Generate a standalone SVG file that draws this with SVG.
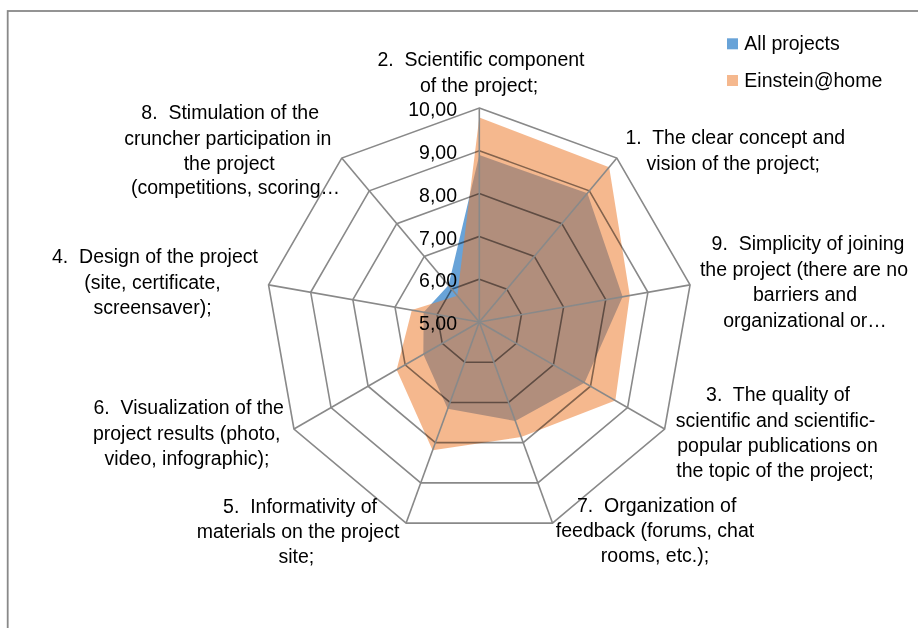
<svg xmlns="http://www.w3.org/2000/svg" width="918" height="628" viewBox="0 0 918 628">
<style>
text{font-family:"Liberation Sans",Arial,sans-serif;font-size:19.5px;fill:#000}
.lbl{text-anchor:middle}
.val{text-anchor:end}
.ring{fill:none;stroke:#898989;stroke-width:1.6;mix-blend-mode:multiply}
.spoke{stroke:#898989;stroke-width:1.6}
.blue{fill:#5B9BD5;fill-opacity:0.92}
.orange{fill:#ED7D31;fill-opacity:0.55}
</style>
<rect x="0" y="0" width="918" height="628" fill="#fff"/>
<rect id="frame" x="7.7" y="11" width="1000" height="1000" fill="none" stroke="#898989" stroke-width="1.8"/>

<g id="series-all">
<polygon class="blue" points="479.3,155.08 587.42,193.15 622.61,296.73 584.57,382.78 515.31,420.94 447.68,408.87 423.33,354.31 423.66,312.19 448.49,285.28"/>
</g>
<g id="series-einstein">
<polygon class="orange" points="479.3,117.42 609.16,167.24 629.78,295.47 615.33,400.54 521.17,437.03 432.6,450.3 396.65,369.72 411.86,310.11 457.29,295.77"/>
</g>

<g id="grid">
<polygon class="ring" points="479.3,108 616.86,158.07 690.05,284.84 664.63,429 552.49,523.09 406.11,523.09 293.97,429 268.55,284.84 341.74,158.07"/>
<polygon class="ring" points="479.3,150.8 589.35,190.85 647.9,292.27 627.56,407.6 537.85,482.88 420.75,482.88 331.04,407.6 310.7,292.27 369.25,190.85"/>
<polygon class="ring" points="479.3,193.6 561.83,223.64 605.75,299.7 590.5,386.2 523.21,442.66 435.39,442.66 368.1,386.2 352.85,299.7 396.77,223.64"/>
<polygon class="ring" points="479.3,236.4 534.32,256.43 563.6,307.14 553.43,364.8 508.58,402.44 450.02,402.44 405.17,364.8 395,307.14 424.28,256.43"/>
<polygon class="ring" points="479.3,279.2 506.81,289.21 521.45,314.57 516.37,343.4 493.94,362.22 464.66,362.22 442.23,343.4 437.15,314.57 451.79,289.21"/>
</g>

<g id="connectors">
<line class="spoke" x1="479.3" y1="322" x2="479.3" y2="108"/>
<line class="spoke" x1="479.3" y1="322" x2="616.86" y2="158.07"/>
<line class="spoke" x1="479.3" y1="322" x2="690.05" y2="284.84"/>
<line class="spoke" x1="479.3" y1="322" x2="664.63" y2="429"/>
<line class="spoke" x1="479.3" y1="322" x2="552.49" y2="523.09"/>
<line class="spoke" x1="479.3" y1="322" x2="406.11" y2="523.09"/>
<line class="spoke" x1="479.3" y1="322" x2="293.97" y2="429"/>
<line class="spoke" x1="479.3" y1="322" x2="268.55" y2="284.84"/>
<line class="spoke" x1="479.3" y1="322" x2="341.74" y2="158.07"/>
</g>

<g id="values">
<text class="val" x="457" y="116.2">10,00</text>
<text class="val" x="457" y="159">9,00</text>
<text class="val" x="457" y="201.8">8,00</text>
<text class="val" x="457" y="244.6">7,00</text>
<text class="val" x="457" y="287.4">6,00</text>
<text class="val" x="457" y="330.2">5,00</text>
</g>

<g id="label-2">
<text class="lbl" x="481" y="65.5" xml:space="preserve">2.  Scientific component</text>
<text class="lbl" x="479" y="92">of the project;</text>
</g>
<g id="label-1">
<text class="lbl" x="735.3" y="144.3" xml:space="preserve">1.  The clear concept and</text>
<text class="lbl" x="733.3" y="170">vision of the project;</text>
</g>
<g id="label-9">
<text class="lbl" x="808" y="250" xml:space="preserve">9.  Simplicity of joining</text>
<text class="lbl" x="804" y="275.5">the project (there are no</text>
<text class="lbl" x="805" y="301">barriers and</text>
<text class="lbl" x="805" y="326.5">organizational or…</text>
</g>
<g id="label-3">
<text class="lbl" x="778" y="401" xml:space="preserve">3.  The quality of</text>
<text class="lbl" x="775.5" y="426.5">scientific and scientific-</text>
<text class="lbl" x="777.5" y="452">popular publications on</text>
<text class="lbl" x="775" y="477.3">the topic of the project;</text>
</g>
<g id="label-7">
<text class="lbl" x="656.7" y="511.7" xml:space="preserve">7.  Organization of</text>
<text class="lbl" x="655" y="537">feedback (forums, chat</text>
<text class="lbl" x="655" y="562.3">rooms, etc.);</text>
</g>
<g id="label-5">
<text class="lbl" x="300" y="512.7" xml:space="preserve">5.  Informativity of</text>
<text class="lbl" x="298" y="538.3">materials on the project</text>
<text class="lbl" x="296.3" y="563.3">site;</text>
</g>
<g id="label-6">
<text class="lbl" x="188.7" y="414" xml:space="preserve">6.  Visualization of the</text>
<text class="lbl" x="186.7" y="440">project results (photo,</text>
<text class="lbl" x="187" y="465">video, infographic);</text>
</g>
<g id="label-4">
<text class="lbl" x="155" y="263.3" xml:space="preserve">4.  Design of the project</text>
<text class="lbl" x="152.5" y="289">(site, certificate,</text>
<text class="lbl" x="152.5" y="314">screensaver);</text>
</g>
<g id="label-8">
<text class="lbl" x="230.2" y="119.3" xml:space="preserve">8.  Stimulation of the</text>
<text class="lbl" x="227.8" y="145">cruncher participation in</text>
<text class="lbl" x="229.2" y="170">the project</text>
<text class="lbl" x="235.5" y="194.3">(competitions, scoring…</text>
</g>

<g id="legend">
<rect class="blue" x="727" y="38.3" width="11" height="11"/>
<text x="744.3" y="50">All projects</text>
<rect class="orange" x="727" y="75" width="11" height="11"/>
<text x="744.3" y="86.5">Einstein@home</text>
</g>
</svg>
